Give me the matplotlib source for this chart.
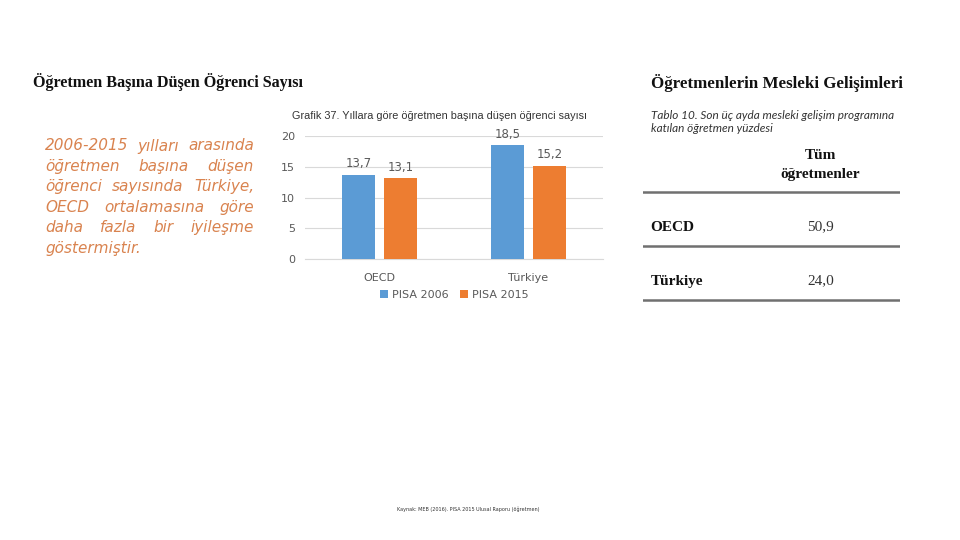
import matplotlib
matplotlib.use("Agg")
import numpy as np
import matplotlib.pyplot as plt

# chart data
categories = ["OECD", "Türkiye"]
pisa_2006 = [13.7, 18.5]
pisa_2015 = [13.1, 15.2]
series_names = ["PISA 2006", "PISA 2015"]
y_ticks = [0, 5, 10, 15, 20]

# table data
table_rows = ["OECD", "Türkiye"]
table_values = [50.9, 24.0]
table_header = "Tüm\nöğretmenler"

paragraph = [
    "2006-2015 yılları arasında",
    "öğretmen başına düşen",
    "öğrenci sayısında Türkiye,",
    "OECD ortalamasına göre",
    "daha fazla bir iyileşme",
    "göstermiştir.",
]

W, H = 960, 540
fig = plt.figure(figsize=(W / 100, H / 100), dpi=100)
fig.patch.set_facecolor("white")


def px(x):
    return x / W


def py(y):
    return 1 - y / H


def comma(v):
    return f"{v:.1f}".replace(".", ",")


serif = "Liberation Serif"
blue = "#5B9BD5"
orange = "#ED7D31"

# left heading
fig.text(px(33), py(82), "Öğretmen Başına Düşen Öğrenci Sayısı", family=serif,
         weight="bold", fontsize=11.6, va="center", ha="left", color="#111111")

# justified orange paragraph
para_kw = dict(family="DejaVu Sans", style="italic", fontsize=11,
               color="#D9834F", va="center", ha="left")
renderer = fig.canvas.get_renderer()
x0, x1, y0, dy = 45, 254, 146, 20.4
for i, line in enumerate(paragraph):
    y = y0 + i * dy
    words = line.split()
    if i == len(paragraph) - 1:
        fig.text(px(x0), py(y), line, **para_kw)
        continue
    arts = [fig.text(0, 0, w, **para_kw) for w in words]
    widths = [a.get_window_extent(renderer).width for a in arts]
    gap = (x1 - x0 - sum(widths)) / (len(words) - 1)
    x = x0
    for a, w in zip(arts, widths):
        a.set_position((px(x), py(y)))
        x += w + gap

# bar chart
ax = fig.add_axes([px(305), py(259), px(603) - px(305), (259 - 136) / H])
idx = np.arange(len(categories))
bw = 0.22
b1 = ax.bar(idx - 0.14, pisa_2006, bw, color=blue, label=series_names[0], zorder=3)
b2 = ax.bar(idx + 0.14, pisa_2015, bw, color=orange, label=series_names[1], zorder=3)
ax.set_xlim(-0.5, 1.5)
ax.set_ylim(0, 20)
ax.set_yticks(y_ticks)
ax.yaxis.grid(True, color="#D9D9D9", lw=0.8, zorder=0)
for s in ["top", "right", "left"]:
    ax.spines[s].set_visible(False)
ax.spines["bottom"].set_color("#D9D9D9")
ax.tick_params(axis="both", length=0, labelsize=8, labelcolor="#595959")
ax.tick_params(axis="y", pad=7)
ax.tick_params(axis="x", pad=10)
ax.set_xticks(idx)
ax.set_xticklabels(categories, fontsize=8)
for bars, vals in [(b1, pisa_2006), (b2, pisa_2015)]:
    for b, v in zip(bars, vals):
        ax.text(b.get_x() + b.get_width() / 2, v + 0.7, comma(v), ha="center",
                va="bottom", fontsize=8.5, color="#595959")
ax.legend(loc="upper center", bbox_to_anchor=(0.5, -0.17), ncol=2, frameon=False,
          fontsize=8, handlelength=0.8, handleheight=0.8, handletextpad=0.3,
          columnspacing=1.0, labelcolor="#595959")
fig.text(px(292), py(116), "Grafik 37. Yıllara göre öğretmen başına düşen öğrenci sayısı",
         fontsize=7.8, color="#333333", va="center", ha="left", family="Liberation Sans")

# right heading
fig.text(px(651), py(83), "Öğretmenlerin Mesleki Gelişimleri", family=serif,
         weight="bold", fontsize=12.2, va="center", ha="left", color="#111111")
fig.text(px(651), py(115), "Tablo 10. Son üç ayda mesleki gelişim programına",
         family="Lato", style="italic", fontsize=8.5, color="#333333", va="center")
fig.text(px(651), py(129), "katılan öğretmen yüzdesi",
         family="Lato", style="italic", fontsize=8.5, color="#333333", va="center")

# table (1 row unit = 54 px, header rule at unit 1)
tax = fig.add_axes([px(643), py(310), px(900) - px(643), (310 - 140) / H])
tax.set_xlim(0, 1)
tax.set_ylim(3.185, 0.037)
tax.axis("off")
tax.text(0.69, 0.5, table_header, family=serif, weight="bold", fontsize=11,
         ha="center", va="center", linespacing=1.55, color="#111111")
tax.axhline(1.0, color="#707070", lw=1.8)
for i, (name, val) in enumerate(zip(table_rows, table_values)):
    yc = 1.65 + i
    tax.text(0.03, yc, name, family=serif, weight="bold", fontsize=11,
             ha="left", va="center", color="#111111")
    tax.text(0.69, yc, comma(val), family=serif, fontsize=11,
             ha="center", va="center", color="#333333")
    tax.axhline(2.0 + i, color="#707070", lw=1.8)

# footer
fig.text(px(468), py(509), "Kaynak: MEB (2016). PISA 2015 Ulusal Raporu (öğretmen)",
         fontsize=3.5, color="#333333", ha="center", va="center")

fig.savefig("out.png", dpi=100)
